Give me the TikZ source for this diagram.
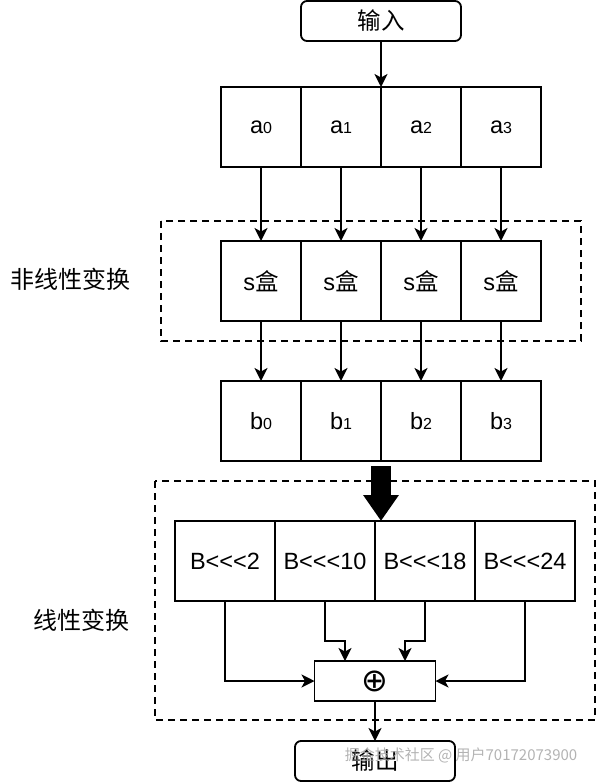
\documentclass[tikz,border=0pt]{standalone}
\usepackage{fontspec}
\setmainfont{Liberation Sans}
\newfontfamily\cjk{Noto Sans CJK SC}
\newfontfamily\dejavu{DejaVu Sans}
\usetikzlibrary{arrows.meta}
\newcommand{\sub}[1]{{\fontsize{16}{16}\selectfont #1}}
\begin{document}
\begin{tikzpicture}[x=1pt,y=-1pt,
  every node/.style={font=\fontsize{23.5}{26}\selectfont},
  cell/.style={draw,line width=1.8pt,minimum width=80pt,minimum height=80pt,inner sep=0pt,outer sep=0pt},
  wcell/.style={cell,minimum width=100pt},
  term/.style={draw,line width=1.8pt,rounded corners=6pt,minimum width=160pt,minimum height=40pt,inner sep=0pt,outer sep=0pt},
  xorbox/.style={draw,line width=1.8pt,minimum width=121pt,minimum height=40pt,inner sep=0pt,outer sep=0pt},
  arr/.style={line width=1.8pt,-{Stealth[length=13pt,width=13pt,inset=3.5pt]}},
  frame/.style={line width=1.8pt,dash pattern=on 7pt off 5pt},
  side/.style={font=\cjk\fontsize{24}{26}\selectfont}
]
\useasboundingbox (0,0) rectangle (596,782);

% input
\node[term] (in) at (381,21) {\cjk 输入};

% a row
\node[cell] (a0) at (261,127) {a\sub{0}};
\node[cell] (a1) at (341,127) {a\sub{1}};
\node[cell] (a2) at (421,127) {a\sub{2}};
\node[cell] (a3) at (501,127) {a\sub{3}};

% s boxes
\draw[frame] (161,221) rectangle (581,341);
\node[side] (l1) at (70,279) {非线性变换};
\node[cell] (s0) at (261,281) {s{\cjk 盒}};
\node[cell] (s1) at (341,281) {s{\cjk 盒}};
\node[cell] (s2) at (421,281) {s{\cjk 盒}};
\node[cell] (s3) at (501,281) {s{\cjk 盒}};

% b row
\node[cell] (b0) at (261,421) {b\sub{0}};
\node[cell] (b1) at (341,421) {b\sub{1}};
\node[cell] (b2) at (421,421) {b\sub{2}};
\node[cell] (b3) at (501,421) {b\sub{3}};

% linear
\draw[frame] (155,481) rectangle (595,720);
\node[side] (l2) at (82,620) {线性变换};
\node[wcell] (B0) at (225,561) {B<{}<{}<2};
\node[wcell] (B1) at (325,561) {B<{}<{}<10};
\node[wcell] (B2) at (425,561) {B<{}<{}<18};
\node[wcell] (B3) at (525,561) {B<{}<{}<24};
\node[xorbox] (xor) at (375,681) {\dejavu\fontsize{32}{32}\selectfont ⊕};

% output
\node[term] (out) at (375,761) {\cjk 输出};

% connectors
\draw[arr] (in.south) -- (a1.north east);
\foreach \i in {0,1,2,3}{
  \draw[arr] (a\i.south) -- (s\i.north);
  \draw[arr] (s\i.south) -- (b\i.north);
}
\coordinate (thk) at ([yshift=-5pt]b1.south east);
\draw[line width=20pt,-{Triangle[length=26pt,width=34pt]}] (thk) -- (thk |- B1.north);
\draw[arr] (B0.south) |- (xor.west);
\draw[arr] (B3.south) |- (xor.east);
\draw[arr] (B1.south) -- ++(0,40) -| ([xshift=-30pt]xor.north);
\draw[arr] (B2.south) -- ++(0,40) -| ([xshift=30pt]xor.north);
\draw[arr] (xor.south) -- (out.north);

% watermark
\node[font=\cjk\fontsize{15}{15}\selectfont, text=gray!70, opacity=0.85] (wm) at (461,755) {掘金技术社区 @ 用户70172073900};
\end{tikzpicture}
\end{document}
